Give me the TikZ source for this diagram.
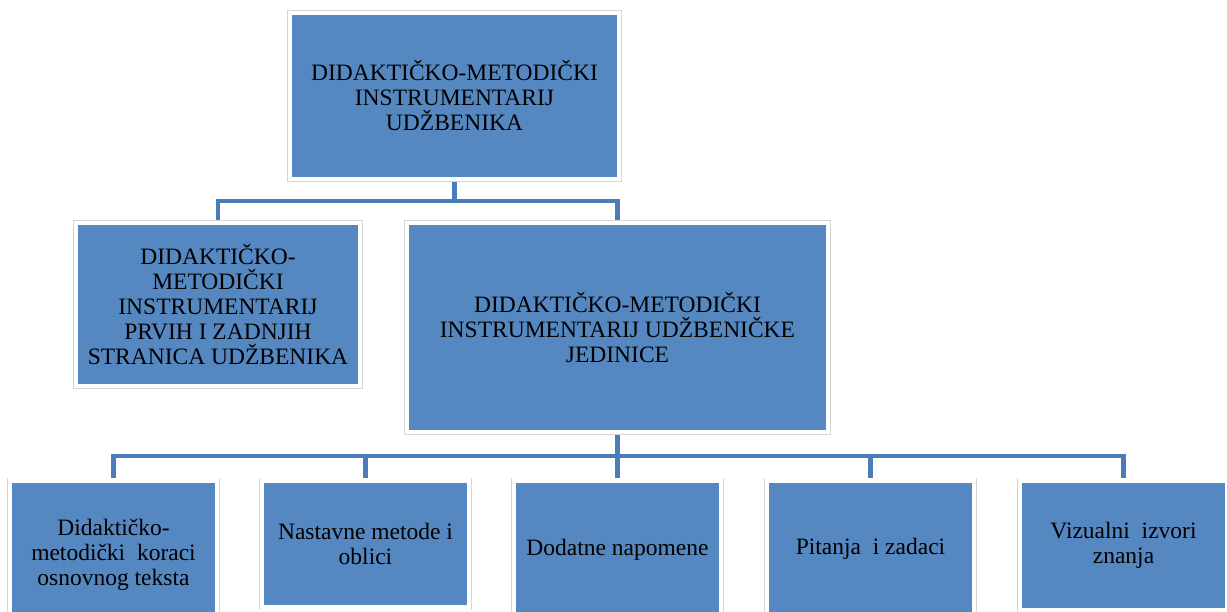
\documentclass[tikz,border=0pt]{standalone}
\usepackage{fontspec}
\setmainfont{LiberationSerif}[
  Extension=.ttf,
  UprightFont=*-Regular,
  BoldFont=*-Bold,
  ItalicFont=*-Italic]
\usetikzlibrary{backgrounds}

\definecolor{boxblue}{HTML}{5587C0}
\definecolor{linkblue}{HTML}{4A7CB8}
\definecolor{rimgray}{HTML}{D6D6D6}

\tikzset{
  box/.style={
    preaction={draw=rimgray, line width=5.5pt},
    draw=white, line width=4.5pt, fill=boxblue,
    inner sep=0pt, align=center,
    font=\fontsize{23.5}{25}\selectfont
  },
  link/.style={draw=linkblue, line width=4.5pt, line join=miter}
}

\begin{document}
\begin{tikzpicture}[x=1pt, y=-1pt]
    % --- Definitions for Proportions ---
    \def\bw{207}    % width of the lower boxes
    \def\bt{478}    % top edge of the lower boxes

    \useasboundingbox (0,0) rectangle (1227,611);

    % --- Upper levels ---
    \node[box, minimum width=329pt, minimum height=166pt] (top) at (454.5,96)
        {DIDAKTIČKO-METODIČKI\\INSTRUMENTARIJ\\UDŽBENIKA};
    \node[box, minimum width=284pt, minimum height=163pt] (pages) at (218,304.5)
        {DIDAKTIČKO-\\METODIČKI\\INSTRUMENTARIJ\\PRVIH I ZADNJIH\\STRANICA UDŽBENIKA};
    \node[box, minimum width=421pt, minimum height=209pt] (unit) at (617.5,327.5)
        {DIDAKTIČKO-METODIČKI\\INSTRUMENTARIJ UDŽBENIČKE\\JEDINICE};

    % --- Lower level (anchored at the top edge) ---
    \node[box, anchor=north, minimum width=\bw pt, minimum height=150pt] (steps) at (113.5,\bt)
        {Didaktičko-\\metodički\ \ koraci\\osnovnog teksta};
    \node[box, anchor=north, minimum width=\bw pt, minimum height=127pt] (methods) at (365.5,\bt)
        {Nastavne metode i\\oblici};
    \node[box, anchor=north, minimum width=\bw pt, minimum height=140pt] (notes) at (617.5,\bt)
        {Dodatne napomene};
    \node[box, anchor=north, minimum width=\bw pt, minimum height=138pt] (tasks) at (870.5,\bt)
        {Pitanja\ \ i zadaci};
    \node[box, anchor=north, minimum width=\bw pt, minimum height=130pt] (sources) at (1123.5,\bt)
        {Vizualni\ \ izvori\\znanja};

    % --- Connectors ---
    \coordinate (bus1) at (0,201);
    \coordinate (bus2) at (0,456);
    \begin{scope}[on background layer]
        \foreach \c in {pages, unit}
            \draw[link] (top.south) -- (top.south |- bus1) -| (\c.north);
        \foreach \c in {steps, methods, notes, tasks, sources}
            \draw[link] (unit.south) -- (unit.south |- bus2) -| (\c.north);
    \end{scope}

\end{tikzpicture}
\end{document}
